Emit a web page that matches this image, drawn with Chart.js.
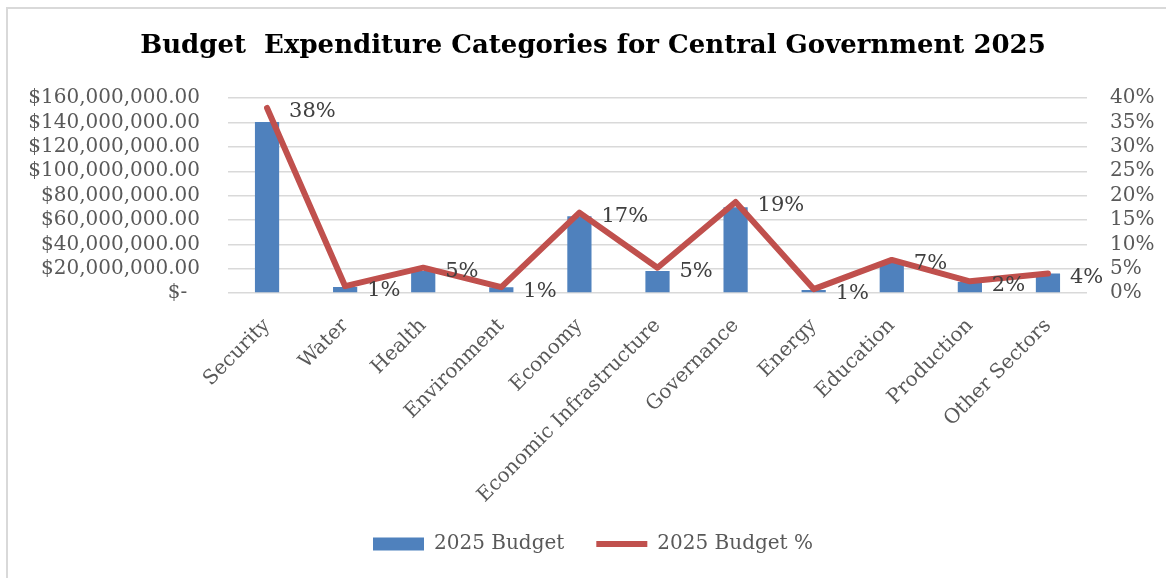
<!DOCTYPE html>
<html>
<head>
<meta charset="utf-8">
<script src="https://cdn.jsdelivr.net/npm/chart.js"></script>
<style>
  body { margin: 0; background: #fff; overflow: hidden; }
  #wrap { position: relative; width: 1166px; height: 578px; }
  #frame { position: absolute; left: 6px; top: 7px; width: 1200px; height: 600px;
           border: 2px solid #d9d9d9; pointer-events: none; }
</style>
</head>
<body>
<div id="wrap">
  <canvas id="budgetChart" width="1166" height="578"></canvas>
  <div id="frame"></div>
</div>
<script>
// BUDGET BY SECTOR
var categories = ["Security", "Water", "Health", "Environment", "Economy",
  "Economic Infrastructure", "Governance", "Energy", "Education", "Production", "Other Sectors"];
var budget2025 = [140500000, 5000000, 18000000, 4800000, 63000000, 18000000,
  70500000, 2500000, 25000000, 9000000, 16000000];
var budgetPct = [0.38, 0.014, 0.052, 0.012, 0.165, 0.052, 0.187, 0.008, 0.068, 0.024, 0.04];
var moneyTicks = [0, 20000000, 40000000, 60000000, 80000000, 100000000, 120000000, 140000000, 160000000];
var pctTicks = [0, 0.05, 0.1, 0.15, 0.2, 0.25, 0.3, 0.35, 0.4];

var serif = "'DejaVu Serif', serif";
var tickColor = "#595959";

const pctText = (v) => Math.round(v * 100) + "%";

const money = (v) => v === 0 ? "$-  " :
  "$" + v.toLocaleString("en-US", {minimumFractionDigits: 2, maximumFractionDigits: 2});

// percentage labels to the right of each line point
const pctLabels = {
  id: "pctLabels",
  afterDatasetsDraw(chart) {
    const meta = chart.getDatasetMeta(1);
    const ctx = chart.ctx;
    ctx.save();
    ctx.font = "21px " + serif;
    ctx.fillStyle = "#404040";
    ctx.textAlign = "left";
    ctx.textBaseline = "middle";
    meta.data.forEach((pt, i) => {
      ctx.fillText(pctText(budgetPct[i]), pt.x + 22, pt.y + 4);
    });
    ctx.restore();
  }
};

new Chart("budgetChart", {
  data: {
    labels: categories,
    datasets: [{
      type: "bar",
      label: "2025 Budget",
      data: budget2025,
      yAxisID: "y",
      backgroundColor: "#4f81bd",
      borderWidth: 0,
      categoryPercentage: 1,
      barPercentage: 0.31,
      pointStyle: "rect",
      order: 2
    },
    {
      type: "line",
      label: "2025 Budget %",
      data: budgetPct,
      yAxisID: "y1",
      borderColor: "#c0504d",
      backgroundColor: "#c0504d",
      borderWidth: 6,
      borderJoinStyle: "round",
      borderCapStyle: "round",
      pointRadius: 0,
      pointStyle: "line",
      tension: 0,
      order: 1
    }]
  },
  options: {
    responsive: false,
    devicePixelRatio: 1,
    animation: false,
    layout: {padding: {left: 20, right: 0, top: 0, bottom: 14}},
    plugins: {
      title: {
        display: true,
        text: "Budget  Expenditure Categories for Central Government 2025",
        color: "#000",
        font: {family: serif, size: 26, weight: "bold"},
        padding: {top: 31, bottom: 36}
      },
      legend: {
        display: true,
        position: "bottom",
        labels: {
          usePointStyle: true,
          pointStyleWidth: 51,
          boxHeight: 13,
          color: tickColor,
          font: {family: serif, size: 20},
          padding: 32,
          sort: (a, b) => a.datasetIndex - b.datasetIndex
        }
      },
      tooltip: {enabled: false}
    },
    scales: {
      x: {
        grid: {display: false},
        border: {display: false},
        ticks: {
          color: tickColor,
          font: {family: serif, size: 20},
          maxRotation: 45,
          minRotation: 45,
          autoSkip: false,
          padding: 13
        },
        afterFit: (s) => { s.height = 209; }
      },
      y: {
        position: "left",
        min: 0,
        max: moneyTicks[moneyTicks.length - 1],
        afterBuildTicks: (s) => { s.ticks = moneyTicks.map(v => ({value: v})); },
        grid: {color: "#d9d9d9", lineWidth: 1.5, drawTicks: false},
        border: {display: false},
        ticks: {
          color: tickColor,
          font: {family: serif, size: 20},
          padding: 28,
          autoSkip: false,
          callback: (v) => money(v)
        },
        afterFit: (s) => { s.width = 208; }
      },
      y1: {
        position: "right",
        min: 0,
        max: pctTicks[pctTicks.length - 1],
        afterBuildTicks: (s) => { s.ticks = pctTicks.map(v => ({value: v})); },
        grid: {display: false, drawTicks: false},
        border: {display: false},
        ticks: {
          color: tickColor,
          font: {family: serif, size: 20},
          padding: 23,
          autoSkip: false,
          callback: (v) => pctText(v)
        },
        afterFit: (s) => { s.width = 79; }
      }
    }
  },
  plugins: [pctLabels]
});
</script>
</body>
</html>
